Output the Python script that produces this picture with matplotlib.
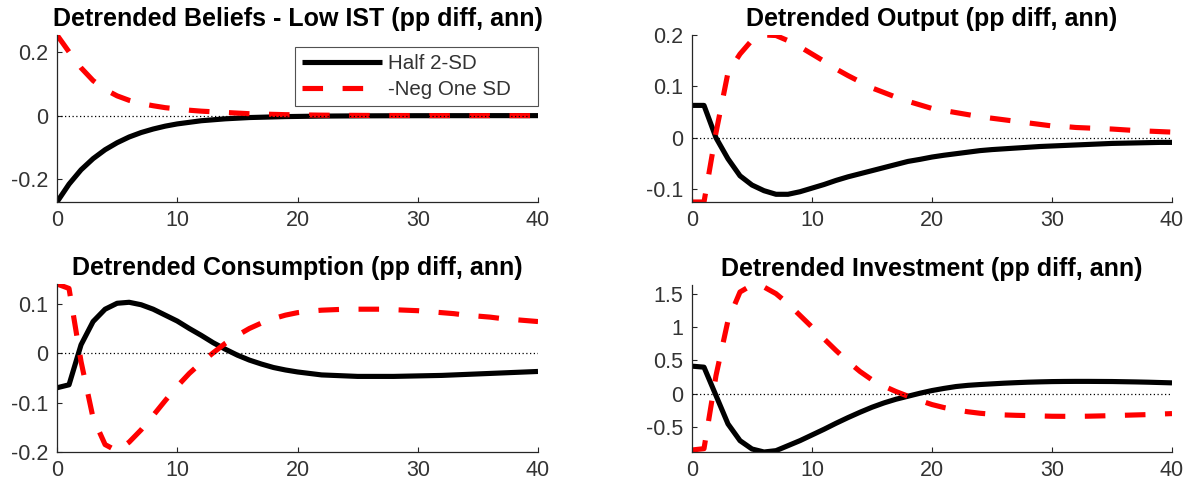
import matplotlib
matplotlib.use("Agg")
import matplotlib.pyplot as plt
import numpy as np

plt.rcParams['font.family'] = ['Liberation Sans', 'DejaVu Sans']
plt.rcParams['axes.unicode_minus'] = False

quarters = list(range(41))

beliefs_half2sd = [-0.271, -0.215, -0.170, -0.135, -0.107, -0.085, -0.067, -0.053, -0.042, -0.033,
                   -0.026, -0.021, -0.016, -0.013, -0.010, -0.008, -0.006, -0.005, -0.004, -0.003,
                   -0.0025, -0.002, -0.0015, -0.0012, -0.001, -0.0008, -0.0006, -0.0005, -0.0004, -0.0003,
                   -0.0002, -0.0002, -0.0001, -0.0001, -0.0001, 0.0, 0.0, 0.0, 0.0, 0.0, 0.0]
beliefs_negonesd = [0.253, 0.200, 0.150, 0.110, 0.082, 0.062, 0.048, 0.038, 0.031, 0.025,
                    0.021, 0.017, 0.014, 0.012, 0.010, 0.008, 0.006, 0.005, 0.004, 0.003,
                    0.0025, 0.002, 0.0015, 0.0012, 0.001, 0.0008, 0.0006, 0.0005, 0.0004, 0.0003,
                    0.0002, 0.0002, 0.0001, 0.0001, 0.0001, 0.0, 0.0, 0.0, 0.0, 0.0, 0.0]

output_half2sd = [0.063, 0.063, 0.000, -0.041, -0.074, -0.092, -0.103, -0.110, -0.110, -0.105,
                  -0.098, -0.091, -0.083, -0.076, -0.070, -0.064, -0.058, -0.052, -0.046, -0.042,
                  -0.0375, -0.034, -0.031, -0.028, -0.025, -0.023, -0.0215, -0.020, -0.0185, -0.017,
                  -0.016, -0.015, -0.014, -0.013, -0.012, -0.011, -0.0105, -0.010, -0.0095, -0.009, -0.009]
output_negonesd = [-0.125, -0.125, 0.010, 0.127, 0.163, 0.190, 0.200, 0.199, 0.189, 0.177,
                   0.163, 0.149, 0.134, 0.121, 0.109, 0.097, 0.088, 0.079, 0.071, 0.064,
                   0.057, 0.053, 0.049, 0.045, 0.041, 0.038, 0.035, 0.032, 0.029, 0.026,
                   0.023, 0.022, 0.020, 0.019, 0.018, 0.017, 0.0155, 0.014, 0.013, 0.012, 0.011]

cons_half2sd = [-0.070, -0.064, 0.017, 0.064, 0.089, 0.101, 0.103, 0.098, 0.089, 0.077,
                0.065, 0.050, 0.036, 0.021, 0.008, -0.004, -0.014, -0.022, -0.029, -0.034,
                -0.038, -0.041, -0.044, -0.045, -0.046, -0.047, -0.047, -0.047, -0.047, -0.0465,
                -0.046, -0.0455, -0.045, -0.044, -0.043, -0.042, -0.041, -0.040, -0.039, -0.038, -0.037]
cons_negonesd = [0.140, 0.131, -0.017, -0.131, -0.185, -0.198, -0.180, -0.155, -0.126, -0.096,
                 -0.067, -0.041, -0.019, 0.001, 0.020, 0.036, 0.050, 0.061, 0.070, 0.077,
                 0.082, 0.085, 0.087, 0.088, 0.089, 0.089, 0.089, 0.089, 0.088, 0.087,
                 0.086, 0.084, 0.082, 0.080, 0.077, 0.075, 0.073, 0.070, 0.068, 0.066, 0.064]

inv_half2sd = [0.415, 0.400, -0.025, -0.450, -0.700, -0.825, -0.870, -0.850, -0.775, -0.700,
               -0.615, -0.530, -0.440, -0.355, -0.275, -0.200, -0.135, -0.080, -0.035, 0.010,
               0.050, 0.082, 0.110, 0.128, 0.140, 0.150, 0.160, 0.168, 0.175, 0.180,
               0.184, 0.186, 0.187, 0.187, 0.186, 0.185, 0.182, 0.179, 0.175, 0.170, 0.165]
inv_negonesd = [-0.840, -0.820, 0.275, 1.100, 1.525, 1.630, 1.600, 1.500, 1.350, 1.175,
                1.000, 0.825, 0.650, 0.485, 0.335, 0.210, 0.115, 0.035, -0.035, -0.100,
                -0.160, -0.205, -0.240, -0.268, -0.290, -0.305, -0.315, -0.321, -0.325, -0.330,
                -0.335, -0.336, -0.336, -0.334, -0.330, -0.325, -0.320, -0.315, -0.310, -0.302, -0.295]

titles = ["Detrended Beliefs - Low IST (pp diff, ann)",
          "Detrended Output (pp diff, ann)",
          "Detrended Consumption (pp diff, ann)",
          "Detrended Investment (pp diff, ann)"]
series_half = [beliefs_half2sd, output_half2sd, cons_half2sd, inv_half2sd]
series_neg = [beliefs_negonesd, output_negonesd, cons_negonesd, inv_negonesd]
yticks = [[-0.2, 0, 0.2], [-0.1, 0, 0.1, 0.2], [-0.2, -0.1, 0, 0.1], [-0.5, 0, 0.5, 1, 1.5]]
yticklabels = [["-0.2", "0", "0.2"], ["-0.1", "0", "0.1", "0.2"],
               ["-0.2", "-0.1", "0", "0.1"], ["-0.5", "0", "0.5", "1", "1.5"]]
xticks = [0, 10, 20, 30, 40]
legend_labels = ["Half 2-SD", "-Neg One SD"]

W, H = 1193, 487
fig = plt.figure(figsize=(W / 100, H / 100), dpi=100)

boxes = [(57, 35, 538, 202), (692, 35, 1172, 202), (57, 284, 538, 452), (692, 285, 1172, 452)]
gray = "#262626"
for i, (l, t, r, b) in enumerate(boxes):
    ax = fig.add_axes([l / W, (H - b) / H, (r - l) / W, (b - t) / H])
    xs = np.array(quarters)
    h1, = ax.plot(xs, series_half[i], color="black", lw=3.7, solid_capstyle="butt",
                  solid_joinstyle="round", label=legend_labels[0])
    h2, = ax.plot(xs, series_neg[i], color="#ff0000", lw=3.7, linestyle=(0, (4.0, 3.8)),
                  dash_capstyle="butt", label=legend_labels[1])
    ax.plot([0, 40], [0, 0], color="black", lw=0.9, linestyle=(0, (1, 2)))
    allv = list(series_half[i]) + list(series_neg[i])
    ax.set_xlim(0, 40)
    ax.set_ylim(min(allv), max(allv))
    ax.set_xticks(xticks)
    ax.set_xticklabels([str(v) for v in xticks])
    ax.set_yticks(yticks[i])
    ax.set_yticklabels(yticklabels[i])
    for s in ["top", "right"]:
        ax.spines[s].set_visible(False)
    for s in ["left", "bottom"]:
        ax.spines[s].set_color(gray)
        ax.spines[s].set_linewidth(0.9)
    ax.tick_params(direction="in", length=3.6, width=0.8, color=gray, labelcolor="#333333",
                   labelsize=15.5)
    ax.tick_params(axis="x", pad=6)
    ax.tick_params(axis="y", pad=6.5)
    ax.set_title(titles[i], fontsize=18, fontweight="bold", pad=6.5)
    if i == 0:
        leg = ax.legend(handles=[h1, h2], loc="upper left",
                        bbox_to_anchor=(0.4948, 0.561, 0.5052, 0.365), mode="expand",
                        fontsize=14.8, frameon=True, fancybox=False, borderaxespad=0,
                        handlelength=3.9, handletextpad=0.3, borderpad=0.33, labelspacing=0.33)
        leg.get_frame().set_edgecolor(gray)
        leg.get_frame().set_linewidth(0.8)
        for txt in leg.get_texts():
            txt.set_color("#333333")

fig.savefig("out.png", dpi=100)
